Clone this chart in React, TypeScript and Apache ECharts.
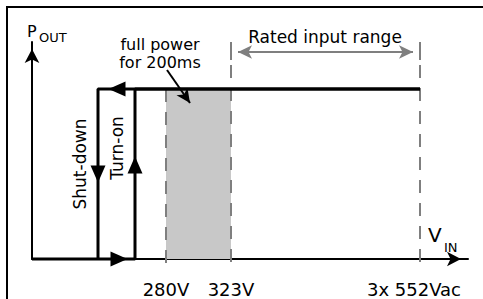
import React, { useEffect, useRef } from "react";
import * as echarts from "echarts";

// Schematic units: x = input voltage position, y = output power level
const xRange = [0, 436];
const yRange = [0, 217];
const thresholdX = [134, 199, 388];
const thresholdLabels = ["280V", "323V", "3x 552Vac"];
const dashedTop = [170, 217, 217];
const dashedBottom = -9;
const fullPowerLevel = 170;
const shutDownX = 66;
const turnOnX = 103;
const turnOnPath = [[0, 0], [turnOnX, 0], [turnOnX, fullPowerLevel], [388, fullPowerLevel]];
const shutDownPath = [[388, fullPowerLevel], [shutDownX, fullPowerLevel], [shutDownX, 0]];
const flowArrows = [
  { value: [85, fullPowerLevel], rotate: 90 },
  { value: [shutDownX, 85], rotate: 180 },
  { value: [turnOnX, 94], rotate: 0 },
  { value: [87, 0], rotate: -90 },
];
const ratedRange = [199, 388];
const ratedArrowY = 207;
const ratedBars = [214, 199];
const noteArrow = [[135, 189], [158, 156]];

const FONT = "DejaVu Sans";

export default function App() {
  const ref = useRef<HTMLDivElement>(null);
  useEffect(() => {
    const chart = echarts.init(ref.current!, null, { renderer: "svg" });
    const gray = "#7f7f7f";
    const dashedSeries = thresholdX.map((x, i) => ({
      type: "line",
      data: [[x, dashedTop[i]], [x, dashedBottom]],
      symbol: "none",
      clip: false,
      z: 3,
      lineStyle: { color: gray, width: 2, type: [13, 10] },
      silent: true,
    }));
    const barSeries = ratedRange.map((x) => ({
      type: "line",
      data: ratedBars.map((y) => [x, y]),
      symbol: "none",
      clip: false,
      z: 3,
      lineStyle: { color: gray, width: 2 },
    }));
    chart.setOption({
      animation: false,
      grid: { left: 32, right: 15, top: 42, bottom: 40 },
      xAxis: {
        type: "value",
        min: xRange[0],
        max: xRange[1],
        splitLine: { show: false },
        axisTick: { show: false },
        axisLine: {
          show: true,
          onZero: true,
          lineStyle: { color: "#000", width: 2 },
          symbol: ["none", "arrow"],
          symbolSize: [11, 14],
          symbolOffset: [0, -7],
        },
        axisLabel: {
          customValues: thresholdX,
          margin: 21,
          color: "#000",
          fontSize: 18,
          fontFamily: FONT,
          formatter: (v: number) => {
            const i = thresholdX.indexOf(v);
            const t = i >= 0 ? thresholdLabels[i] : "";
            return i === 2 ? "{r|" + t + "}" : t;
          },
          rich: { r: { fontSize: 18, fontFamily: FONT, color: "#000", padding: [0, 12, 0, 0] } },
        },
      },
      yAxis: {
        type: "value",
        min: yRange[0],
        max: yRange[1],
        splitLine: { show: false },
        axisTick: { show: false },
        axisLabel: { show: false },
        axisLine: {
          show: true,
          lineStyle: { color: "#000", width: 2 },
          symbol: ["none", "arrow"],
          symbolSize: [11, 14],
          symbolOffset: [0, -7],
        },
      },
      series: [
        {
          type: "line",
          data: [],
          z: 1,
          markArea: {
            silent: true,
            itemStyle: { color: "#c8c8c8" },
            data: [[{ coord: [thresholdX[0], 0] }, { coord: [thresholdX[1], fullPowerLevel] }]],
          },
        },
        ...dashedSeries,
        ...barSeries,
        {
          type: "line",
          data: [],
          z: 4,
          markLine: {
            silent: true,
            symbol: ["arrow", "arrow"],
            symbolSize: [10, 14],
            label: { show: false },
            lineStyle: { color: gray, width: 2, type: "solid" },
            data: [[{ coord: [ratedRange[0] + 7, ratedArrowY] }, { coord: [ratedRange[1] - 7, ratedArrowY] }]],
          },
        },
        {
          type: "line",
          data: turnOnPath,
          symbol: "none",
          clip: false,
          z: 5,
          lineStyle: { color: "#000", width: 3 },
        },
        {
          type: "line",
          data: shutDownPath,
          symbol: "none",
          clip: false,
          z: 5,
          lineStyle: { color: "#000", width: 3 },
        },
        {
          type: "scatter",
          z: 6,
          symbol: "triangle",
          symbolSize: [15, 17],
          clip: false,
          itemStyle: { color: "#000", opacity: 1, borderWidth: 0 },
          data: flowArrows.map((a) => ({ value: a.value, symbolRotate: a.rotate })),
        },
        {
          type: "line",
          data: [],
          z: 6,
          markLine: {
            silent: true,
            symbol: ["none", "arrow"],
            symbolSize: [10, 14],
            label: { show: false },
            lineStyle: { color: "#000", width: 2, type: "solid" },
            data: [[{ coord: noteArrow[0] }, { coord: noteArrow[1] }]],
          },
        },
      ],
      graphic: [
        { type: "line", shape: { x1: 6, y1: 7, x2: 483, y2: 7 }, style: { stroke: "#000", lineWidth: 2 } },
        { type: "line", shape: { x1: 7, y1: 7, x2: 7, y2: 299 }, style: { stroke: "#000", lineWidth: 2 } },
        { type: "text", x: 27, y: 31, style: { text: "P", font: `16px '${FONT}'`, fill: "#000", textAlign: "left", textVerticalAlign: "middle" } },
        { type: "text", x: 39, y: 37, style: { text: "OUT", font: `13px '${FONT}'`, fill: "#000", textAlign: "left", textVerticalAlign: "middle" } },
        { type: "text", x: 428, y: 235, style: { text: "V", font: `20px '${FONT}'`, fill: "#000", textAlign: "left", textVerticalAlign: "middle" } },
        { type: "text", x: 444, y: 247, style: { text: "IN", font: `13px '${FONT}'`, fill: "#000", textAlign: "left", textVerticalAlign: "middle" } },
        { type: "text", x: 160, y: 44, style: { text: "full power", font: `16px '${FONT}'`, fill: "#000", textAlign: "center", textVerticalAlign: "middle" } },
        { type: "text", x: 160, y: 62, style: { text: "for 200ms", font: `16px '${FONT}'`, fill: "#000", textAlign: "center", textVerticalAlign: "middle" } },
        { type: "text", x: 325, y: 37, style: { text: "Rated input range", font: `17px '${FONT}'`, fill: "#000", textAlign: "center", textVerticalAlign: "middle" } },
        { type: "text", x: 80, y: 164, rotation: Math.PI / 2, style: { text: "Shut-down", font: `17px '${FONT}'`, fill: "#000", textAlign: "center", textVerticalAlign: "middle" } },
        { type: "text", x: 117, y: 148, rotation: Math.PI / 2, style: { text: "Turn-on", font: `17px '${FONT}'`, fill: "#000", textAlign: "center", textVerticalAlign: "middle" } },
      ],
    });
    return () => chart.dispose();
  }, []);
  return <div ref={ref} style={{ width: 483, height: 299, position: "absolute", left: 0, top: 0 }} />;
}
